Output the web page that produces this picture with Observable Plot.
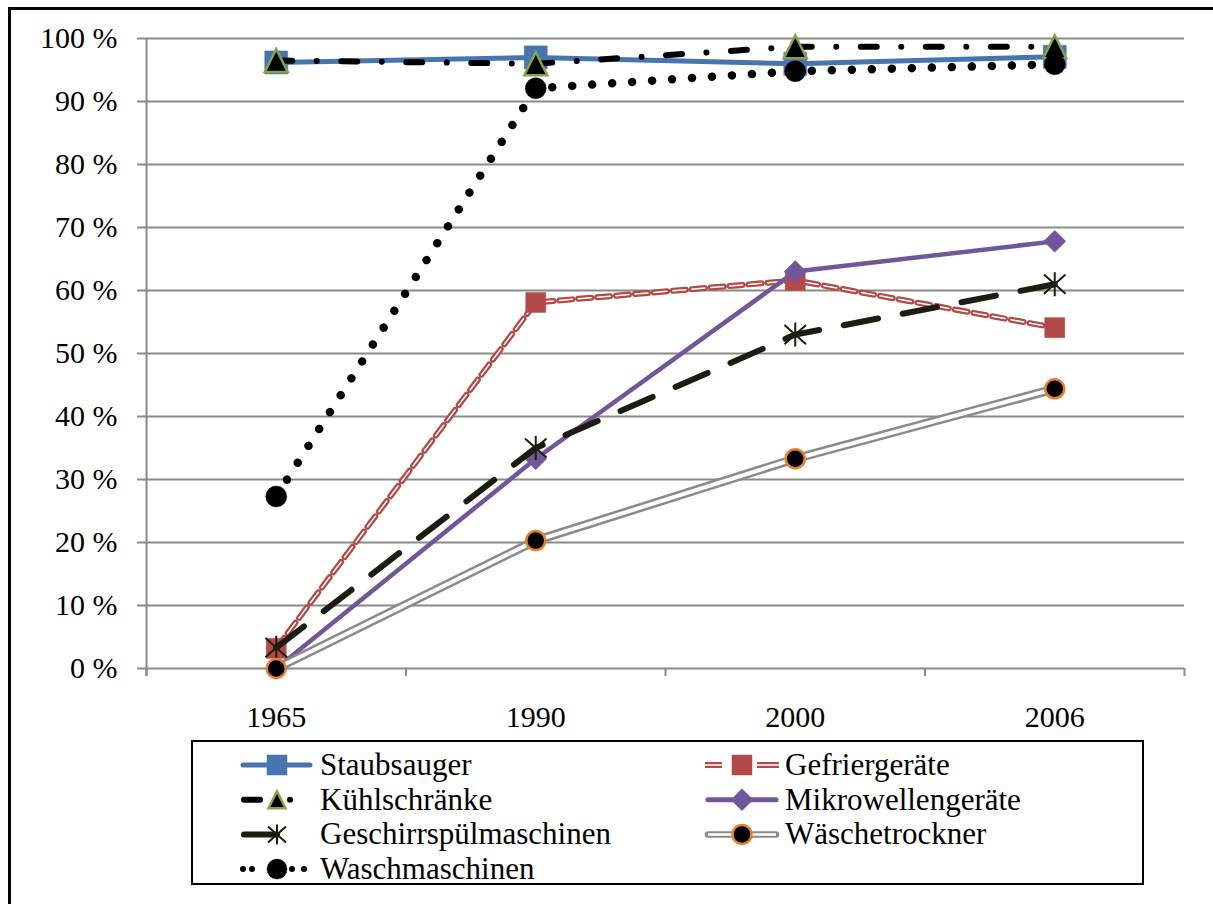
<!DOCTYPE html>
<html>
<head>
<meta charset="utf-8">
<script src="https://cdn.jsdelivr.net/npm/d3@7"></script>
<script src="https://cdn.jsdelivr.net/npm/@observablehq/plot@0.6"></script>
<style>
  html, body { margin: 0; padding: 0; background: #fff; }
  #wrap { position: relative; width: 1213px; height: 904px; overflow: hidden; }
  #frame { position: absolute; left: 8px; top: 7px; width: 1400px; height: 1200px;
           border-left: 3px solid #000; border-top: 3px solid #000; box-sizing: border-box; }
  #chart { position: absolute; left: 0; top: 0; }
  #legend { position: absolute; left: 0; top: 0; }
</style>
</head>
<body>
<div id="wrap">
  <div id="frame"></div>
  <div id="chart"></div>
  <svg id="legend" width="1213" height="904"></svg>
</div>
<script>
// ---- data ----
const years = ["1965", "1990", "2000", "2006"];
const yTicks = [0, 10, 20, 30, 40, 50, 60, 70, 80, 90, 100];
const seriesNames = ["Staubsauger", "Gefriergeräte", "Kühlschränke", "Mikrowellengeräte",
                     "Geschirrspülmaschinen", "Wäschetrockner", "Waschmaschinen"];
const staubsauger = [96.2, 97.0, 96.0, 97.1];
const gefriergeraete = [3.2, 58.1, 61.6, 54.1];
const kuehlschraenke = [96.5, 96.0, 98.7, 98.7];
const mikrowellen = [0, 33.3, 63.0, 67.8];
const geschirrspueler = [3.3, 35.0, 53.0, 61.0];
const waeschetrockner = [0, 20.3, 33.3, 44.4];
const waschmaschinen = [27.3, 92.1, 94.8, 95.9];

const rowsOf = arr => arr.map((v, i) => ({i, v, year: years[i]}));

// ---- colours ----
const blue = "#4775b0", red = "#b24a47", green = "#86a34b", purple = "#71579a",
      orange = "#e4822e", gray = "#8a8a8a", ink = "#1c1c12";
const FONT = "'Liberation Serif', 'Times New Roman', Times, serif";

// ---- custom symbols (r recovered from Plot's size = PI r^2) ----
const rOf = s => Math.sqrt(s / Math.PI);
const symSquare = {draw(c, s) { const r = rOf(s); c.rect(-r, -r, 2 * r, 2 * r); }};
const symTriangle = {draw(c, s) { const r = rOf(s); c.moveTo(0, -r); c.lineTo(r, r); c.lineTo(-r, r); c.closePath(); }};
const symDiamond = {draw(c, s) { const r = rOf(s); c.moveTo(0, -r); c.lineTo(r, 0); c.lineTo(0, r); c.lineTo(-r, 0); c.closePath(); }};
const symAsterisk = {draw(c, s) { const r = rOf(s);
  c.moveTo(0, -r); c.lineTo(0, r);
  c.moveTo(-r * 0.9, -r * 0.8); c.lineTo(r * 0.9, r * 0.8);
  c.moveTo(-r * 0.9, r * 0.8); c.lineTo(r * 0.9, -r * 0.8); }};

const L = (arr, o) => Plot.line(rowsOf(arr), {x: "i", y: "v", strokeLinejoin: "round", ...o});
const D = (arr, o) => Plot.dot(rowsOf(arr), {x: "i", y: "v", ...o});

const chart = Plot.plot({
  width: 1213,
  height: 904,
  marginTop: 38,
  marginBottom: 236,
  marginLeft: 146,
  marginRight: 29,
  style: {fontFamily: FONT, fontSize: "30px", color: "#000", background: "transparent", overflow: "visible"},
  x: {type: "linear", domain: [-0.5, years.length - 0.5], axis: null, label: null},
  y: {domain: [0, 100], axis: null, label: null},
  marks: [
    Plot.ruleY(yTicks, {stroke: gray, strokeWidth: 2, insetLeft: -9}),
    Plot.ruleX([-0.5], {y1: 100, y2: 0, stroke: gray, strokeWidth: 2, insetBottom: -8}),
    Plot.ruleX(d3.range(years.length + 1).map(k => k - 0.5), {y1: 0, y2: 0, stroke: gray, strokeWidth: 2, insetBottom: -8}),
    Plot.axisY(yTicks, {tickSize: 0, tickPadding: 29, tickFormat: d => d + " %", fontSize: 30, label: null, fontFamily: FONT}),
    Plot.axisX(d3.range(years.length), {tickSize: 0, tickPadding: 37, tickFormat: i => years[i], fontSize: 30, label: null, fontFamily: FONT}),

    // Staubsauger
    L(staubsauger, {stroke: blue, strokeWidth: 5}),
    D(staubsauger, {symbol: symSquare, r: 11.5, fill: blue, stroke: blue, strokeWidth: 0.5}),
    // Gefriergeräte
    L(gefriergeraete, {stroke: red, strokeWidth: 6, strokeDasharray: "13 6"}),
    L(gefriergeraete, {stroke: "#fff", strokeWidth: 1.5, strokeDasharray: "13 6"}),
    D(gefriergeraete, {symbol: symSquare, r: 10, fill: red, stroke: red, strokeWidth: 0.5}),
    // Kühlschränke
    L(kuehlschraenke, {stroke: "#000", strokeWidth: 6, strokeLinecap: "round", strokeDasharray: "16 24.5 0.01 24.5"}),
    D(kuehlschraenke, {symbol: symTriangle, r: 11.5, fill: "#000", stroke: green, strokeWidth: 2.5}),
    // Mikrowellengeräte
    L(mikrowellen, {stroke: purple, strokeWidth: 4.5}),
    D(mikrowellen, {symbol: symDiamond, r: 11, fill: purple, stroke: purple, strokeWidth: 0.5}),
    // Geschirrspülmaschinen
    L(geschirrspueler, {stroke: ink, strokeWidth: 6, strokeLinecap: "round", strokeDasharray: "35 25"}),
    D(geschirrspueler, {symbol: symAsterisk, r: 12, fill: "none", stroke: ink, strokeWidth: 2}),
    // Wäschetrockner
    L(waeschetrockner, {stroke: gray, strokeWidth: 9}),
    L(waeschetrockner, {stroke: "#fff", strokeWidth: 4}),
    D(waeschetrockner, {symbol: "circle", r: 9.5, fill: "#000", stroke: orange, strokeWidth: 2.5}),
    // Waschmaschinen
    L(waschmaschinen, {stroke: "#000", strokeWidth: 8.5, strokeLinecap: "round", strokeDasharray: "0.01 20"}),
    D(waschmaschinen, {symbol: "circle", r: 10.5, fill: "#000", stroke: "#000", strokeWidth: 0.5})
  ]
});
document.getElementById("chart").appendChild(chart);

// ---- legend ----
const lg = d3.select("#legend");
lg.append("rect").attr("x", 192).attr("y", 741).attr("width", 951).attr("height", 143)
  .attr("fill", "none").attr("stroke", "#000").attr("stroke-width", 2);

const rowY = k => 765 + k * 34.7;
const cols = [{x0: 241, x1: 312, mx: 277, tx: 320}, {x0: 705, x1: 779, mx: 742, tx: 785}];
function pathOf(symObj, r) { return d3.symbol().type(symObj).size(Math.PI * r * r)(); }

function swatch(g, idx, c, y) {
  const line = (x0, x1, stroke, w, extra = {}) => {
    const l = g.append("line").attr("x1", x0).attr("x2", x1).attr("y1", y).attr("y2", y)
      .attr("stroke", stroke).attr("stroke-width", w);
    for (const k in extra) l.attr(k, extra[k]);
    return l;
  };
  const mark = (symObj, r, fill, stroke, sw) =>
    g.append("path").attr("d", pathOf(symObj, r)).attr("transform", `translate(${c.mx},${y})`)
      .attr("fill", fill).attr("stroke", stroke).attr("stroke-width", sw);
  switch (idx) {
    case 0:
      line(c.x0 + 2, c.x1 - 2, blue, 5, {"stroke-linecap": "round"});
      mark(symSquare, 10, blue, blue, 0.5); break;
    case 1:
      line(c.x0, c.x0 + 17, red, 6); line(c.x0, c.x0 + 17, "#fff", 1.5);
      line(c.x1 - 22, c.x1, red, 6); line(c.x1 - 22, c.x1, "#fff", 1.5);
      mark(symSquare, 10, red, red, 0.5); break;
    case 2:
      line(c.x0 + 3, c.x0 + 19, "#000", 6, {"stroke-linecap": "round"});
      g.append("circle").attr("cx", c.mx + 13).attr("cy", y).attr("r", 3).attr("fill", "#000");
      mark(symTriangle, 8.5, "#000", green, 2.5); break;
    case 3:
      line(c.x0 + 3, c.x1 - 3, purple, 5, {"stroke-linecap": "round"});
      mark(symDiamond, 11, purple, purple, 0.5); break;
    case 4:
      line(c.x0 + 3, c.mx, ink, 6, {"stroke-linecap": "round"});
      mark(symAsterisk, 10, "none", ink, 2); break;
    case 5:
      line(c.x0 + 3, c.x1 - 3, gray, 6.5, {"stroke-linecap": "round"});
      line(c.x0 + 3, c.x1 - 3, "#fff", 2.5);
      mark(d3.symbolCircle, 9.5, "#000", orange, 2.5); break;
    case 6:
      [c.x0 + 2, c.x0 + 11, c.mx + 15, c.mx + 27].forEach(x =>
        g.append("circle").attr("cx", x).attr("cy", y).attr("r", 3).attr("fill", "#000"));
      mark(d3.symbolCircle, 10, "#000", "#000", 0.5); break;
  }
}

seriesNames.forEach((name, idx) => {
  const c = cols[idx % 2];
  const y = rowY(Math.floor(idx / 2));
  const g = lg.append("g");
  swatch(g, idx, c, y);
  g.append("text").attr("x", c.tx).attr("y", y + 10)
    .attr("font-family", FONT)
    .attr("font-size", 31).attr("fill", "#000").text(name);
});
</script>
</body>
</html>
